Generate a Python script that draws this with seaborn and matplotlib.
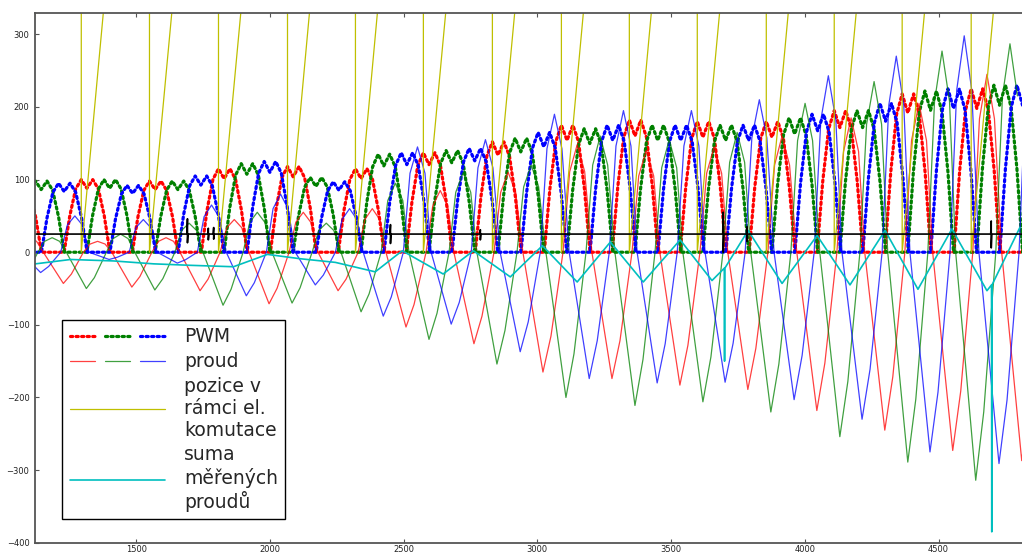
import matplotlib
matplotlib.use("Agg")
import matplotlib.pyplot as plt
import seaborn as sns
from matplotlib.legend_handler import HandlerTuple

sns.set_theme(style="white")
plt.rcParams['font.family'] = ['DejaVu Sans']
plt.rcParams['lines.scale_dashes'] = False

RED, GREEN, BLUE = '#ff0000', '#008000', '#0000ff'
YELLOW, CYAN = '#bfbf00', '#00bfbf'

# --- position within electrical commutation (sawtooth, drops to 0 each period)
pozice_x = [1039, 1295, 1295, 1550, 1550, 1808, 1808, 2066, 2066, 2320, 2320,
            2574, 2574, 2832, 2832, 3090, 3090, 3344, 3344, 3598, 3598, 3856,
            3856, 4110, 4110, 4364, 4364, 4622, 4622, 4878]
pozice_y = [0, 1020, 0, 1020, 0, 1020, 0, 1020, 0, 1020, 0, 1020, 0, 1020, 0,
            1020, 0, 1020, 0, 1020, 0, 1020, 0, 1020, 0, 1020, 0, 1020, 0, 1020]

# --- PWM humps: start of each hump and its peak, plus the hump profile
pwm_profile_dx = [0, 21, 43, 64, 85, 107, 128, 150, 171]
pwm_profile_k = [0, 0.5, 0.87, 1.0, 0.88, 1.0, 0.87, 0.5, 0]

red_pwm_start = [975, 1231, 1486, 1744, 2002, 2256, 2510, 2768, 3026, 3280,
                 3534, 3792, 4046, 4300, 4558, 4814]
red_pwm_peak = [95, 100, 98, 115, 118, 115, 137, 152, 175, 182, 180, 180, 195,
                218, 225, 230]
green_pwm_start = [1060, 1316, 1571, 1829, 2087, 2341, 2595, 2853, 3111, 3365,
                   3619, 3877, 4131, 4385, 4643]
green_pwm_peak = [98, 100, 98, 122, 103, 135, 140, 157, 170, 175, 175, 185,
                  195, 222, 230]
blue_pwm_start = [890, 1146, 1402, 1657, 1915, 2173, 2427, 2681, 2939, 3197,
                  3451, 3705, 3963, 4217, 4471, 4729]
blue_pwm_peak = [95, 95, 92, 105, 125, 97, 137, 143, 165, 175, 175, 175, 190,
                 205, 225, 230]

# --- phase currents: x of each minimum, the minimum and the following maximum
proud_profile_dx = [-75, 0, 30, 75, 100, 128, 156]

red_proud_min_x = [972, 1228, 1484, 1739, 1997, 2255, 2509, 2763, 3021, 3279,
                   3533, 3787, 4045, 4299, 4553, 4811]
red_proud_min = [-40, -43, -48, -53, -71, -53, -103, -126, -165, -174, -183,
                 -189, -218, -245, -273, -287]
red_proud_max = [20, 15, 20, 45, 55, 60, 85, 110, 148, 140, 145, 160, 185, 205,
                 245, 250]
green_proud_min_x = [1058, 1314, 1570, 1825, 2083, 2341, 2595, 2849, 3107,
                     3365, 3619, 3873, 4131, 4385, 4639]
green_proud_min = [-45, -50, -52, -73, -70, -82, -120, -154, -200, -211, -206,
                   -220, -254, -289, -314]
green_proud_max = [20, 25, 40, 55, 40, 95, 110, 120, 160, 155, 165, 205, 235,
                   277, 287]
blue_proud_min_x = [887, 1143, 1399, 1654, 1912, 2170, 2424, 2678, 2936, 3194,
                    3448, 3702, 3960, 4214, 4468, 4726]
blue_proud_min = [-25, -28, -10, -15, -60, -45, -88, -99, -137, -174, -180,
                  -179, -203, -230, -275, -291]
blue_proud_max = [20, 50, 45, 65, 80, 60, 145, 155, 190, 195, 195, 210, 243,
                  270, 298, 300]

# --- sum of measured currents
suma_x = [1124, 1255, 1415, 1565, 1700, 1864, 1991, 2114, 2245, 2394, 2495,
          2648, 2761, 2899, 3019, 3149, 3273, 3396, 3534, 3653, 3699, 3700,
          3701, 3788, 3915, 4046, 4169, 4300, 4423, 4550, 4681, 4698, 4699,
          4700, 4804]
suma_y = [-16, -10, -12, -16, -18, -20, -3, -9, -14, -27, 2, -30, 2, -34, 9,
          -41, 14, -41, 17, -39, -22, -150, -22, 30, -43, 23, -45, 30, -51, 32,
          -53, -45, -385, -45, 34]

# --- black trace (constant level with spikes)
black_x = [1122, 1690, 1692, 1692, 1694, 1768, 1770, 1770, 1772, 1788, 1790,
           1790, 1792, 2449, 2451, 2451, 2453, 2785, 2787, 2787, 2789, 3693,
           3695, 3695, 3697, 3782, 3784, 3784, 3786, 4695, 4697, 4697, 4699,
           4812]
black_y = [25, 25, 46, 13, 25, 25, 33, 17, 25, 25, 34, 18, 25, 25, 38, 12, 25,
           25, 31, 17, 25, 25, 55, 0, 25, 25, 35, 15, 25, 25, 43, 6, 25, 25]


def pwm_series(starts, peaks):
    xs, ys = [], []
    for s, p in zip(starts, peaks):
        xs += [s + d for d in pwm_profile_dx]
        ys += [p * k for k in pwm_profile_k]
    return xs, ys


def proud_series(min_x, mins, maxs):
    xs, ys = [], []
    for m, lo, hi in zip(min_x, mins, maxs):
        xs += [m + d for d in proud_profile_dx]
        ys += [0, lo, 0.7 * lo, 0, 0.75 * hi, hi, 0.75 * hi]
    return xs, ys


fig = plt.figure(figsize=(10.22, 5.54), dpi=100)
ax = fig.add_axes([35 / 1022, 11.3 / 554, 1 - 35 / 1022, 529.4 / 554])

pwm_style = dict(linestyle=(0, (1.6, 2.4)), linewidth=2.3, dash_capstyle='round')
pwm_lines = []
for starts, peaks, col in [(red_pwm_start, red_pwm_peak, RED),
                           (green_pwm_start, green_pwm_peak, GREEN),
                           (blue_pwm_start, blue_pwm_peak, BLUE)]:
    xs, ys = pwm_series(starts, peaks)
    sns.lineplot(x=xs, y=ys, color=col, estimator=None, sort=False, ax=ax,
                 **pwm_style)
    pwm_lines.append(ax.lines[-1])

proud_lines = []
for mx, lo, hi, col in [(red_proud_min_x, red_proud_min, red_proud_max, RED),
                        (green_proud_min_x, green_proud_min, green_proud_max, GREEN),
                        (blue_proud_min_x, blue_proud_min, blue_proud_max, BLUE)]:
    xs, ys = proud_series(mx, lo, hi)
    sns.lineplot(x=xs, y=ys, color=col, estimator=None, sort=False, ax=ax,
                 linewidth=0.9, alpha=0.75)
    proud_lines.append(ax.lines[-1])

sns.lineplot(x=pozice_x, y=pozice_y, color=YELLOW, estimator=None, sort=False,
             ax=ax, linewidth=0.9)
pozice_line = ax.lines[-1]
sns.lineplot(x=suma_x, y=suma_y, color=CYAN, estimator=None, sort=False,
             ax=ax, linewidth=1.2)
suma_line = ax.lines[-1]
sns.lineplot(x=black_x, y=black_y, color='black', estimator=None, sort=False,
             ax=ax, linewidth=1.2)

ax.set_xlim(1122, 4812)
ax.set_ylim(-400, 329)
ax.set_xticks([1500, 2000, 2500, 3000, 3500, 4000, 4500])
ax.set_yticks([-400, -300, -200, -100, 0, 100, 200, 300])
ax.tick_params(direction='in', length=3, width=0.8, color='#555555',
               labelsize=6, labelcolor='#222222',
               top=True, bottom=True, left=True, right=False)
ax.tick_params(axis='x', pad=1.5)
ax.tick_params(axis='y', pad=4)
for side in ['left', 'bottom', 'top']:
    ax.spines[side].set_color('#555555')
    ax.spines[side].set_linewidth(1.3)
ax.spines['right'].set_visible(False)

leg = ax.legend([tuple(pwm_lines), tuple(proud_lines), pozice_line, suma_line],
                ['PWM', 'proud', 'pozice v\nrámci el.\nkomutace',
                 'suma\nměřených\nproudů'],
                handler_map={tuple: HandlerTuple(ndivide=None, pad=0.5)},
                loc='upper left', bbox_to_anchor=(62 / 1022, 1 - 320 / 554),
                bbox_transform=fig.transFigure, borderaxespad=0,
                fontsize=13.5, handlelength=5.1, handletextpad=1.0,
                labelspacing=0.3, borderpad=0.4, frameon=True, fancybox=False,
                framealpha=1, edgecolor='black')
leg.get_frame().set_linewidth(1.0)

fig.savefig("out.png", dpi=100)
